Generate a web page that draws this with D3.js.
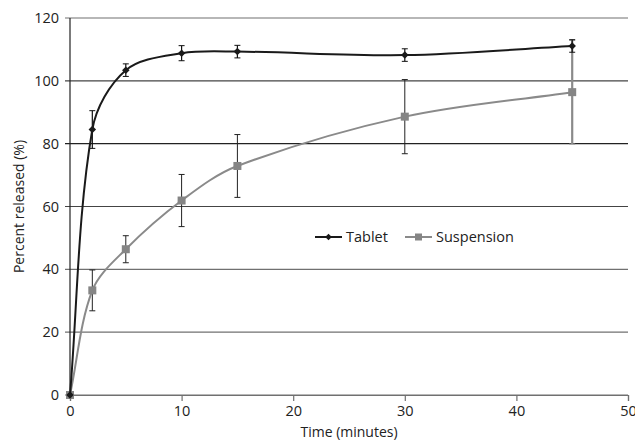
<!DOCTYPE html>
<html>
<head>
<meta charset="utf-8">
<script src="https://cdn.jsdelivr.net/npm/d3@7"></script>
<style>
	body { margin: 0; background: white; }
	svg text { font-family: "Open Sans", "Noto Sans", sans-serif; fill: #222; }
</style>
</head>
<body>
<div id="chart"></div>
<script>

// Data.
let times = [0, 2, 5, 10, 15, 30, 45];
let tabletMean = [0, 84.5, 103.4, 108.8, 109.3, 108.2, 111.1];
let tabletErr = [0, 6.0, 2.0, 2.4, 2.0, 2.0, 2.0];
let suspensionMean = [0, 33.3, 46.4, 61.9, 72.9, 88.6, 96.4];
let suspensionErr = [0, 6.5, 4.3, 8.3, 10.0, 11.8, 16.5];
let xTicks = [0, 10, 20, 30, 40, 50];
let yTicks = [0, 20, 40, 60, 80, 100, 120];
let seriesNames = ["Tablet", "Suspension"];



let width = 635, height = 442;
let margin = {left: 70, right: 7, top: 18, bottom: 47};

let svg = d3.select("#chart")
  .append("svg")
	.attr("width", width)
	.attr("height", height);

let x = d3.scaleLinear().domain([0, 50]).range([margin.left, width - margin.right]);
let y = d3.scaleLinear().domain([0, 120]).range([height - margin.bottom, margin.top]);


// Horizontal grid lines, which also act as the left ticks.
svg.append("g")
  .selectAll("line")
  .data(yTicks)
  .enter()
  .append("line")
	.attr("x1", margin.left - 5)
	.attr("x2", x(50))
	.attr("y1", d=>y(d))
	.attr("y2", d=>y(d))
	.attr("stroke", d=>d==80 ? "#222" : (d==100 || d==60 ? "#444" : "#707070"))
	.attr("stroke-width", 1.2)

// Y axis labels.
let yAxis = d3.axisLeft(y).tickValues(yTicks).tickSize(0).tickPadding(11);
svg.append("g")
	.attr("transform", `translate(${margin.left},0)`)
	.call(yAxis)
	.call(g=>g.select(".domain").remove())
	.call(g=>g.selectAll("text").style("font-size", "14.5px").attr("fill", "#222"));

// X axis.
let xAxis = d3.axisBottom(x).tickValues(xTicks).tickSize(6).tickPadding(5);
svg.append("g")
	.attr("transform", `translate(0,${y(0)})`)
	.call(xAxis)
	.call(g=>g.select(".domain").attr("stroke", "#707070").attr("stroke-width", 1.2))
	.call(g=>g.selectAll(".tick line").attr("stroke", "#707070").attr("stroke-width", 1.2))
	.call(g=>g.selectAll("text").style("font-size", "14.5px").attr("fill", "#222"));

// Vertical axis line.
svg.append("line")
	.attr("x1", x(0)).attr("x2", x(0))
	.attr("y1", y(120)).attr("y2", y(0))
	.attr("stroke", "#222")
	.attr("stroke-width", 1.2)


// Axis titles.
svg.append("text")
	.attr("x", x(25))
	.attr("y", 437)
	.attr("text-anchor", "middle")
	.style("font-size", "14px")
	.text("Time (minutes)")

svg.append("text")
	.attr("transform", `translate(24,${y(60)}) rotate(-90)`)
	.attr("text-anchor", "middle")
	.style("font-size", "14px")
	.text("Percent released (%)")



let tablet = times.map((t,i)=>({t: t, v: tabletMean[i], e: tabletErr[i]}));
let suspension = times.map((t,i)=>({t: t, v: suspensionMean[i], e: suspensionErr[i]}));


// Spreadsheet-like smoothed line: bezier segments whose control points follow the neighbours,
// weighted by the segment lengths so that short segments next to long ones do not overshoot.
function smoothpath(data){
	let pts = data.map(d=>[x(d.t), y(d.v)]);
	let n = pts.length;
	let dist = (a,b)=>Math.hypot(b[0]-a[0], b[1]-a[1]);
	
	function control(i, side){
		// side = +1 for outgoing, -1 for incoming.
		let p = pts[i];
		if(i==0 || i==n-1){
			let q = pts[i + side];
			return [p[0] + (q[0]-p[0])/3, p[1] + (q[1]-p[1])/3];
		} // if
		let prev = pts[i-1], next = pts[i+1];
		let dprev = dist(prev, p), dnext = dist(p, next);
		let dseg = side > 0 ? dnext : dprev;
		let f = side*dseg/(dprev + dnext)/3;
		return [p[0] + (next[0]-prev[0])*f, p[1] + (next[1]-prev[1])*f];
	} // control
	
	let path = d3.path();
	path.moveTo(pts[0][0], pts[0][1]);
	for(let i=0; i<n-1; i++){
		let c1 = control(i, 1);
		let c2 = control(i+1, -1);
		path.bezierCurveTo(c1[0], c1[1], c2[0], c2[1], pts[i+1][0], pts[i+1][1]);
	} // for
	return path.toString();
} // smoothpath


// Error bars.
function errorbars(data, color, widthfn){
	let g = svg.append("g");
	data.filter(d=>d.e > 0).forEach(d=>{
		let c = color(d), w = widthfn(d);
		g.append("line")
			.attr("x1", x(d.t)).attr("x2", x(d.t))
			.attr("y1", y(d.v - d.e)).attr("y2", y(d.v + d.e))
			.attr("stroke", c).attr("stroke-width", w)
		;[d.v - d.e, d.v + d.e].forEach(v=>{
			g.append("line")
				.attr("x1", x(d.t) - 3).attr("x2", x(d.t) + 3)
				.attr("y1", y(v)).attr("y2", y(v))
				.attr("stroke", c).attr("stroke-width", 1)
		}) // forEach
	}) // forEach
} // errorbars

errorbars(suspension, d=>d.t==45 ? "#8a8a8a" : "#222", d=>d.t==45 ? 2.2 : 1);
errorbars(tablet, d=>"#111", d=>1.2);


// Suspension line and markers.
svg.append("path")
	.attr("d", smoothpath(suspension))
	.attr("fill", "none")
	.attr("stroke", "#8a8a8a")
	.attr("stroke-width", 2)

svg.append("g")
  .selectAll("rect")
  .data(suspension)
  .enter()
  .append("rect")
	.attr("x", d=>x(d.t) - 4)
	.attr("y", d=>y(d.v) - 4)
	.attr("width", 8)
	.attr("height", 8)
	.attr("fill", "#858585")

// Tablet line and markers.
svg.append("path")
	.attr("d", smoothpath(tablet))
	.attr("fill", "none")
	.attr("stroke", "#1a1a1a")
	.attr("stroke-width", 2)

svg.append("g")
  .selectAll("path")
  .data(tablet)
  .enter()
  .append("path")
	.attr("transform", d=>`translate(${x(d.t)},${y(d.v)}) rotate(45)`)
	.attr("d", d3.symbol().type(d3.symbolSquare).size(28))
	.attr("fill", "#1a1a1a")



// Legend.
let legend = svg.append("g").attr("transform", "translate(315,237)");
seriesNames.forEach((name,i)=>{
	let ox = i==0 ? 0 : 90;
	let c = i==0 ? "#1a1a1a" : "#8a8a8a";
	legend.append("line")
		.attr("x1", ox).attr("x2", ox + 27)
		.attr("y1", 0).attr("y2", 0)
		.attr("stroke", c)
		.attr("stroke-width", 2)
	if(i==0){
		legend.append("path")
			.attr("transform", `translate(${ox + 13.5},0) rotate(45)`)
			.attr("d", d3.symbol().type(d3.symbolSquare).size(22))
			.attr("fill", c)
	} else {
		legend.append("rect")
			.attr("x", ox + 10).attr("y", -3.5)
			.attr("width", 7).attr("height", 7)
			.attr("fill", "#858585")
	} // if
	legend.append("text")
		.attr("x", ox + 31)
		.attr("y", 5)
		.style("font-size", "14.5px")
		.text(name)
}) // forEach

</script>
</body>
</html>
